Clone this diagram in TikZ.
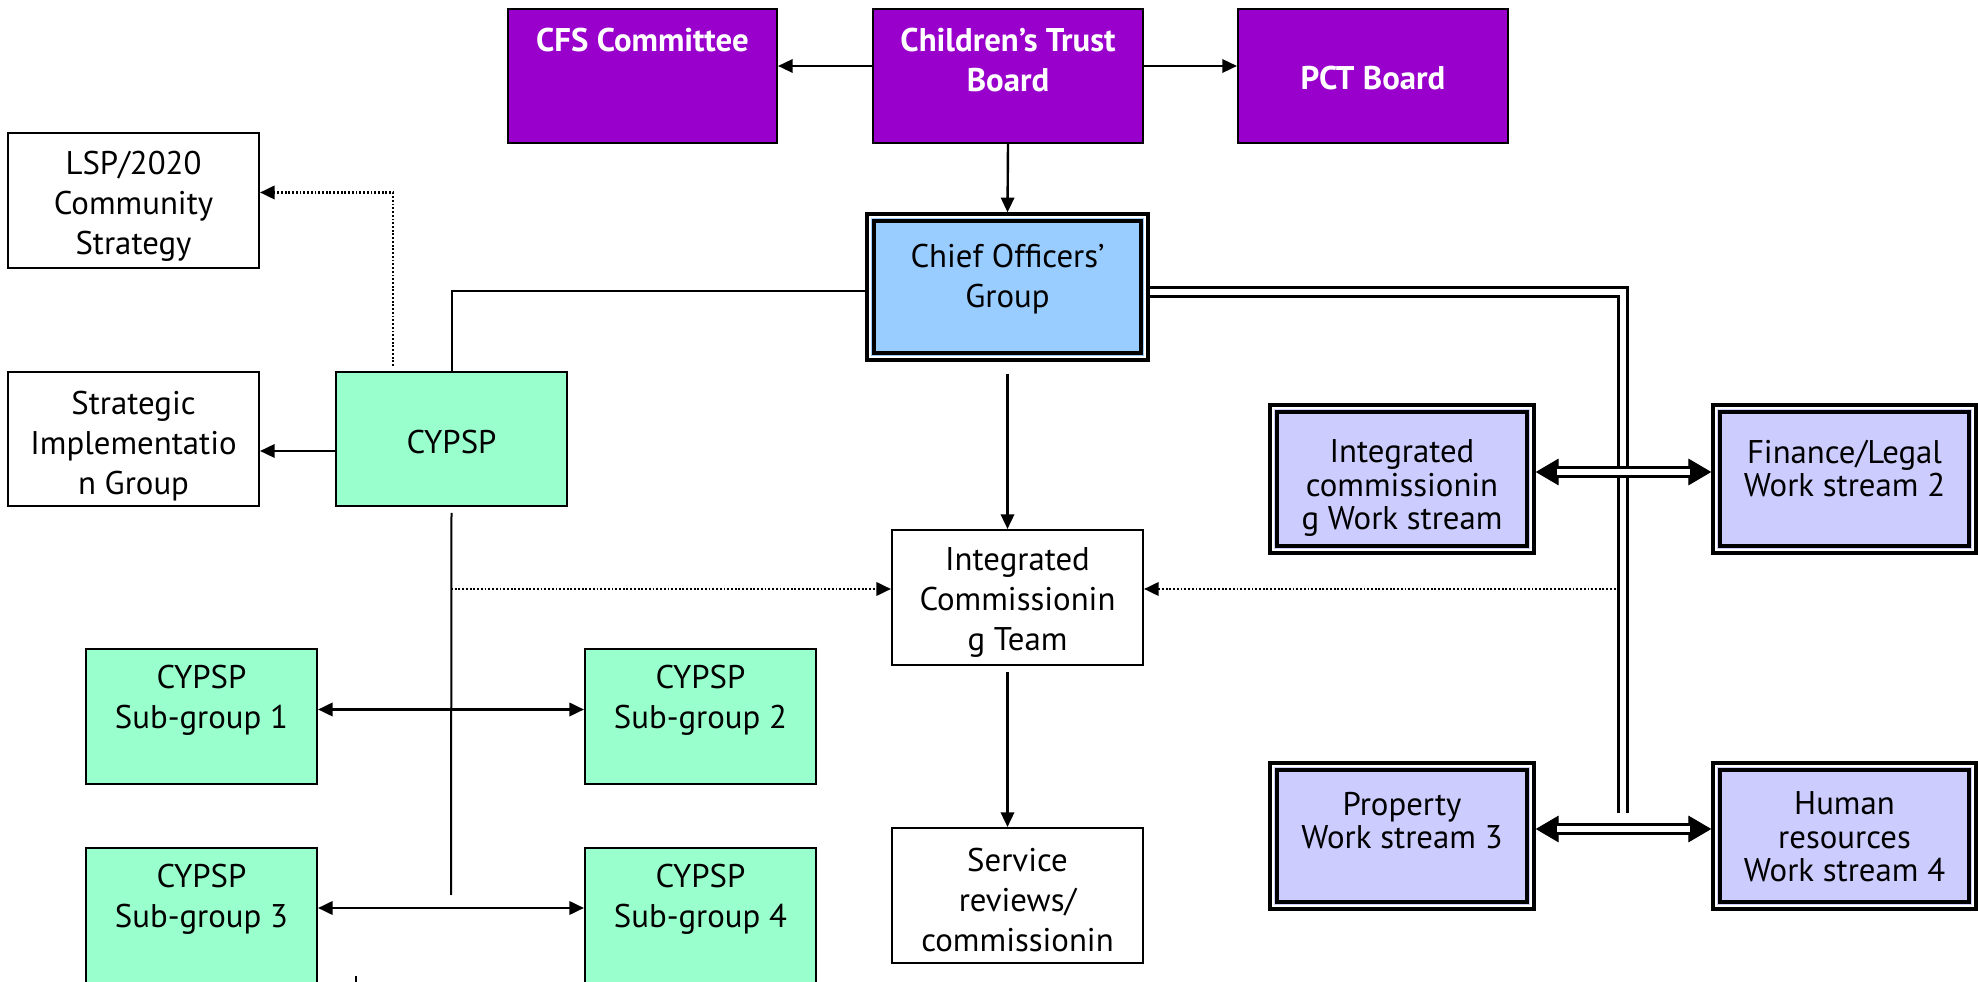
\documentclass[tikz,border=0pt]{standalone}
\usepackage{fontspec}
\setmainfont{PT Sans}
\usetikzlibrary{arrows.meta,fit}
\definecolor{purp}{HTML}{9900CC}
\definecolor{mint}{HTML}{99FFCC}
\definecolor{skyb}{HTML}{99CCFF}
\definecolor{lav}{HTML}{CCCCFF}
\newcommand\dblframe[1]{%
  \draw[white, line width=0.6pt] ([shift={(4.5,4.5)}]#1.north west) rectangle ([shift={(-4.5,-4.5)}]#1.south east);
  \draw[line width=1.5pt] ([shift={(9,9)}]#1.north west) rectangle ([shift={(-9,-9)}]#1.south east);}
\begin{document}
\begin{tikzpicture}[x=0.375pt,y=-0.375pt,
  box/.style={draw=black, line width=0.75pt, inner sep=0pt},
  purpbox/.style={box, fill=purp},
  greenbox/.style={box, fill=mint},
  whitebox/.style={box, fill=white},
  dblbox/.style={box, line width=1.3pt},
  txt/.style={inner sep=0pt, align=center, font=\fontsize{12.3pt}{15pt}\selectfont, anchor=north},
  ctxt/.style={txt, anchor=center},
  wtxt/.style={txt, font=\fontsize{12.3pt}{12.6pt}\selectfont},
  ptxt/.style={txt, text=white, font=\bfseries\fontsize{12.3pt}{15pt}\selectfont},
  conn/.style={draw=black, line width=0.75pt},
  arr/.style={conn, line width=0.9pt, -{Triangle[length=5.5pt,width=5pt]}},
  darr/.style={conn, line width=1pt, {Triangle[length=5.5pt,width=5pt]}-{Triangle[length=5.5pt,width=5pt]}},
  dotarr/.style={conn, line width=1pt, dash pattern=on 0.7pt off 0.7pt, -{Triangle[length=5.5pt,width=5pt]}},
  dbl/.style={draw=black, line width=1.1pt, double=white, double distance=2.3pt},
  bigtips/.style={conn, line width=0.4pt, {Triangle[length=8.6pt,width=10pt]}-{Triangle[length=8.6pt,width=10pt]}},
]
\useasboundingbox (0,0) rectangle (1978,982);
\clip (0,0) rectangle (1978,982);
\fill[white] (0,0) rectangle (1978,982);

% top row
\node[purpbox, fit={(508,9) (777,143)}] (cfs) {};
\node[ptxt] (cfst) at ([shift={(0,20)}]cfs.north) {CFS Committee};
\node[purpbox, fit={(873,9) (1143,143)}] (ctb) {};
\node[ptxt] (ctbt) at ([shift={(0,20)}]ctb.north) {Children’s Trust\\Board};
\node[purpbox, fit={(1238,9) (1508,143)}] (pct) {};
\node[ptxt, anchor=center] (pctt) at ([shift={(0,2)}]pct.center) {PCT Board};

% chief officers
\node[dblbox, fill=skyb, fit={(867,214) (1148,360)}] (chief) {};
\dblframe{chief}
\node[txt] (chieft) at ([shift={(0,31)}]chief.north) {Chief Officers’\\Group};

% left column
\node[whitebox, fit={(8,133) (259,268)}] (lsp) {};
\node[ctxt] (lspt) at ([shift={(0,6)}]lsp.center) {LSP/2020\\Community\\Strategy};
\node[whitebox, fit={(8,372) (259,506)}] (sig) {};
\node[ctxt] (sigt) at ([shift={(0,7)}]sig.center) {Strategic\\Implementatio\\n Group};
\node[greenbox, fit={(336,372) (567,506)}] (cypsp) {};
\node[ctxt] (cypspt) at ([shift={(0,3)}]cypsp.center) {CYPSP};

% sub-groups
\node[greenbox, fit={(86,649) (317,784)}] (sg1) {};
\node[txt] (sg1t) at ([shift={(0,17)}]sg1.north) {CYPSP\\Sub-group 1};
\node[greenbox, fit={(585,649) (816,784)}] (sg2) {};
\node[txt] (sg2t) at ([shift={(0,17)}]sg2.north) {CYPSP\\Sub-group 2};
\node[greenbox, fit={(86,848) (317,1000)}] (sg3) {};
\node[txt] (sg3t) at ([shift={(0,17)}]sg3.north) {CYPSP\\Sub-group 3};
\node[greenbox, fit={(585,848) (816,1000)}] (sg4) {};
\node[txt] (sg4t) at ([shift={(0,17)}]sg4.north) {CYPSP\\Sub-group 4};

% centre column
\node[whitebox, fit={(892,530) (1143,665)}] (ict) {};
\node[ctxt] (ictt) at ([shift={(0,5)}]ict.center) {Integrated\\Commissionin\\g Team};
\node[whitebox, fit={(892,828) (1143,963)}] (srv) {};
\node[ctxt] (srvt) at ([shift={(0,5)}]srv.center) {Service\\reviews/\\commissionin};

% work streams
\node[dblbox, fill=lav, fit={(1270,405) (1534,553)}] (icw) {};
\dblframe{icw}
\node[wtxt] (icwt) at ([shift={(0,36)}]icw.north) {Integrated\\commissionin\\g Work stream};
\node[dblbox, fill=lav, fit={(1713,405) (1976,553)}] (fin) {};
\dblframe{fin}
\node[wtxt] (fint) at ([shift={(0,36)}]fin.north) {Finance/Legal\\Work stream 2};
\node[dblbox, fill=lav, fit={(1270,763) (1534,909)}] (prop) {};
\dblframe{prop}
\node[wtxt] (propt) at ([shift={(0,30)}]prop.north) {Property\\Work stream 3};
\node[dblbox, fill=lav, fit={(1713,763) (1976,909)}] (hr) {};
\dblframe{hr}
\node[wtxt] (hrt) at ([shift={(0,30)}]hr.north) {Human\\resources\\Work stream 4};

% connectors
\draw[arr] ([shift={(0,-10)}]ctb.west) -- ([shift={(0,-10)}]cfs.east);
\draw[arr] ([shift={(0,-10)}]ctb.east) -- ([shift={(0,-10)}]pct.west);
\draw[arr] (ctb.south) -- (chief.north);
\draw[arr, shorten <=4.5pt] (chief.south) -- (chief.south |- ict.north);
\draw[arr, shorten <=2.3pt] (ict.south -| chief.south) -- (srv.north -| chief.south);
\draw[conn] (cypsp.north) |- ([shift={(0,4)}]chief.west);
\coordinate (dstart) at (393,366);
\draw[dotarr] (dstart) |- ([shift={(0,-8)}]lsp.east);
\draw[arr] ([shift={(0,12)}]cypsp.west) -- ([shift={(0,12)}]sig.east);
\coordinate (vbot) at (451,895);
\draw[conn] ([shift={(0,6)}]cypsp.south) -- (vbot);
\coordinate (ldot) at (451,589);
\draw[dotarr] (ldot) -- (ldot -| ict.west);
\draw[darr] ([shift={(0,-7)}]sg1.east) -- ([shift={(0,-7)}]sg2.west);
\draw[darr] ([shift={(0,-16)}]sg3.east) -- ([shift={(0,-16)}]sg4.west);
\coordinate (tick) at (356,976);
\draw[conn] (tick) -- ++(0,10);

% right side
\coordinate (vdot) at (1623,589);
\draw[dotarr] (vdot) -- (vdot -| ict.east);
\coordinate (vend) at (1623,813);
\draw[dbl] ([shift={(0,5)}]chief.east) -| (vend);
\draw[bigtips] ([shift={(0,-7)}]icw.east) -- ([shift={(0,-7)}]fin.west);
\draw[dbl, shorten <=8pt, shorten >=8pt] ([shift={(0,-7)}]icw.east) -- ([shift={(0,-7)}]fin.west);
\draw[bigtips] ([shift={(0,-7)}]prop.east) -- ([shift={(0,-7)}]hr.west);
\draw[dbl, shorten <=8pt, shorten >=8pt] ([shift={(0,-7)}]prop.east) -- ([shift={(0,-7)}]hr.west);
\end{tikzpicture}
\end{document}
